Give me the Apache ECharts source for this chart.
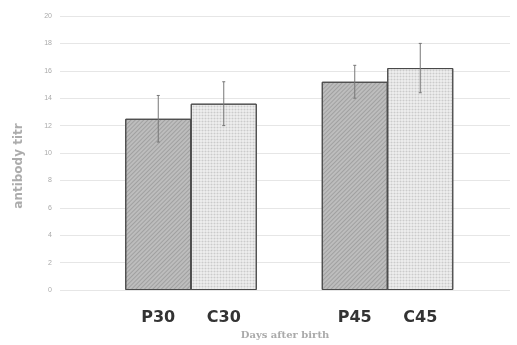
<!DOCTYPE html>
<html>
<head>
<meta charset="utf-8">
<script src="https://cdn.jsdelivr.net/npm/echarts@6/dist/echarts.min.js"></script>
<style>
  html, body { margin: 0; padding: 0; background: #fff; }
  #chart { width: 517px; height: 345px; }
</style>
</head>
<body>
<div id="chart"></div>
<script>
// bar labels, x slots (in bar widths), mean titre and error
const groups = ['P30', 'C30', 'P45', 'C45']
const slots = [1.5, 2.5, 4.5, 5.5]
const means = [12.5, 13.6, 15.2, 16.2]
const errors = [1.7, 1.6, 1.2, 1.8]
const yTicks = [0, 2, 4, 6, 8, 10, 12, 14, 16, 18, 20]

const hatch = {
  symbol: 'rect',
  symbolSize: 1,
  dashArrayX: [1, 0],
  dashArrayY: [1, 2],
  rotation: -Math.PI / 4,
  color: 'rgba(60,60,60,0.22)'
}
const dots = {
  symbol: 'circle',
  symbolSize: 0.7,
  dashArrayX: [[3, 0]],
  dashArrayY: [3, 0],
  color: 'rgba(120,120,120,0.3)'
}

const chart = echarts.init(document.getElementById('chart'))

const barData = groups.map((g, i) => ({
  name: g,
  value: [slots[i], means[i]],
  itemStyle: {
    color: g[0] === 'P' ? '#bdbdbd' : '#f0f0f0',
    decal: g[0] === 'P' ? hatch : dots
  }
}))

chart.setOption({
  animation: false,
  grid: { left: 60, right: 7, top: 16, bottom: 49 },
  graphic: [{
    type: 'text',
    x: 19,
    y: 166,
    rotation: Math.PI / 2,
    style: {
      text: 'antibody titr',
      fill: '#acacac',
      fontSize: 12,
      fontWeight: 'bold',
      fontFamily: 'DejaVu Sans',
      align: 'center',
      verticalAlign: 'middle'
    }
  }],
  xAxis: {
    type: 'value',
    min: 0,
    max: 6.87,
    axisLine: { show: false },
    axisTick: { show: false },
    axisLabel: { show: false },
    splitLine: { show: false },
    name: 'Days after birth',
    nameLocation: 'middle',
    nameGap: 40,
    nameTextStyle: { color: '#aaa', fontSize: 10, fontWeight: 'bold', fontFamily: 'DejaVu Serif' }
  },
  yAxis: {
    type: 'value',
    min: yTicks[0],
    max: yTicks[yTicks.length - 1],
    interval: 2,
    axisLine: { show: false },
    axisTick: { show: false },
    axisLabel: { color: '#aaa', fontSize: 7, margin: 8 },
    splitLine: { lineStyle: { color: '#e6e6e6', width: 1 } }
  },
  series: [
    {
      type: 'bar',
      barWidth: 66,
      data: barData,
      itemStyle: { borderColor: '#4a4a4a', borderWidth: 1 },
      label: {
        show: true,
        position: 'bottom',
        distance: 20,
        formatter: '{b}',
        color: '#333',
        fontSize: 16,
        fontWeight: 'bold',
        fontFamily: 'DejaVu Sans'
      }
    },
    {
      type: 'custom',
      data: groups.map((g, i) => [slots[i], means[i] - errors[i], means[i] + errors[i]]),
      renderItem: function (params, api) {
        const lo = api.coord([api.value(0), api.value(1)])
        const hi = api.coord([api.value(0), api.value(2)])
        const cap = 1.5
        const st = { stroke: '#777', lineWidth: 1 }
        return {
          type: 'group',
          children: [
            { type: 'line', shape: { x1: hi[0], y1: hi[1], x2: lo[0], y2: lo[1] }, style: st },
            { type: 'line', shape: { x1: hi[0] - cap, y1: hi[1], x2: hi[0] + cap, y2: hi[1] }, style: st },
            { type: 'line', shape: { x1: lo[0] - cap, y1: lo[1], x2: lo[0] + cap, y2: lo[1] }, style: st }
          ]
        }
      },
      z: 5
    }
  ]
})
</script>
</body>
</html>
